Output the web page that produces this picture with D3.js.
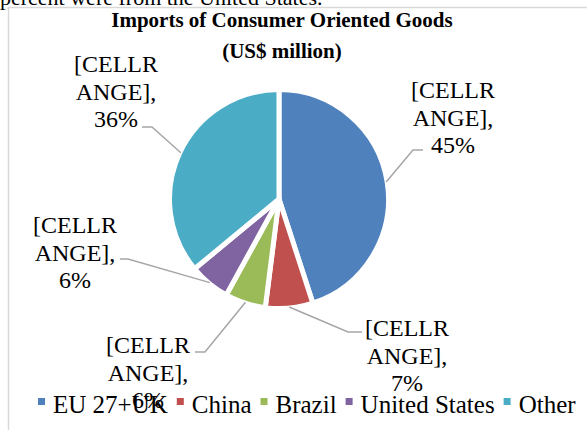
<!DOCTYPE html>
<html>
<head>
<meta charset="utf-8">
<script src="https://cdn.jsdelivr.net/npm/d3@7"></script>
<style>
  html, body { margin: 0; padding: 0; background: #fff; overflow: hidden; }
  svg { display: block; font-family: "Liberation Serif", "Times New Roman", serif; }
</style>
</head>
<body>
<div id="chart"></div>
<script>
// Chart data.
const categories = ['EU 27+UK', 'China', 'Brazil', 'United States', 'Other'];
const shares = [45, 7, 6, 6, 36];
const labelText = ['[CELLR', 'ANGE],'];
const colors = ['#4f81bd', '#c0504d', '#9bbb59', '#8064a2', '#4bacc6'];
const titleLines = ['Imports of Consumer Oriented Goods', '(US$ million)'];
const bodyText = 'percent were from the United States.';

// Label layout: text centre, first baseline, elbow and end of leader line.
const labelLayout = [
    {x: 453, y: 98, elbow: [413, 150], end: [423, 150]},
    {x: 407, y: 336, elbow: [348, 332], end: [362, 332]},
    {x: 148, y: 353, elbow: [205, 352], end: [195, 352]},
    {x: 75, y: 233, elbow: [128, 259], end: [120, 259]},
    {x: 116, y: 72, elbow: [152, 127], end: [142, 127]}
];

const width = 587;
const height = 430;
const cx = 279, cy = 199, radius = 109.5;
const lineHeight = 27.5;

const svg = d3.select('#chart')
    .append('svg')
        .attr('width', width)
        .attr('height', height);

// Clipped line of the surrounding document text.
svg.append('text')
    .attr('x', 0)
    .attr('y', 5)
    .style('font-size', '22px')
    .text(bodyText);

// Chart area border.
svg.append('rect')
    .attr('x', 8.5)
    .attr('y', 7.5)
    .attr('width', width + 10)
    .attr('height', height + 10)
    .attr('fill', 'none')
    .attr('stroke', '#d9d9d9')
    .attr('stroke-width', 1.5);

// Title.
svg.append('text')
    .attr('text-anchor', 'middle')
    .style('font-size', '21px')
    .style('font-weight', 'bold')
    .selectAll('tspan')
    .data(titleLines)
    .enter()
    .append('tspan')
        .attr('x', 282)
        .attr('y', (d, i) => 27 + i * 31)
        .text(d => d);

// Pie slices, clockwise from 12 o'clock.
const pie = d3.pie().sort(null).value(d => d);
const arcs = pie(shares);
const arc = d3.arc().innerRadius(0).outerRadius(radius);
const g = svg.append('g').attr('transform', `translate(${cx},${cy})`);

g.selectAll('path')
    .data(arcs)
    .enter()
    .append('path')
        .attr('d', arc)
        .attr('fill', (d, i) => colors[i])
        .attr('stroke', '#fff')
        .attr('stroke-width', 5)
        .attr('stroke-linejoin', 'round');

// Leader lines from the slice edge to each label.
const edge = d3.arc().innerRadius(radius - 1).outerRadius(radius - 1);
svg.append('g')
    .selectAll('polyline')
    .data(arcs)
    .enter()
    .append('polyline')
        .attr('points', (d, i) => {
            const p = edge.centroid(d);
            const l = labelLayout[i];
            return [[cx + p[0], cy + p[1]], l.elbow, l.end].map(q => q.join(',')).join(' ');
        })
        .attr('fill', 'none')
        .attr('stroke', '#a6a6a6')
        .attr('stroke-width', 1.5);

// Data labels.
svg.append('g')
    .selectAll('text')
    .data(arcs)
    .enter()
    .append('text')
        .attr('text-anchor', 'middle')
        .style('font-size', '24px')
        .each(function(d, i) {
            const l = labelLayout[i];
            const lines = labelText.concat([`${d.data}%`]);
            d3.select(this).selectAll('tspan')
                .data(lines)
                .enter()
                .append('tspan')
                    .attr('x', l.x)
                    .attr('y', (t, j) => l.y + j * lineHeight)
                    .text(t => t);
        });

// Legend.
const legend = svg.append('g');
let lx = 38;
categories.forEach((c, i) => {
    legend.append('rect')
        .attr('x', lx)
        .attr('y', 398)
        .attr('width', 7)
        .attr('height', 7)
        .attr('fill', colors[i]);
    const t = legend.append('text')
        .attr('x', lx + 15)
        .attr('y', 413)
        .style('font-size', '25px')
        .text(c);
    lx += 15 + t.node().getComputedTextLength() + 9;
});
</script>
</body>
</html>
